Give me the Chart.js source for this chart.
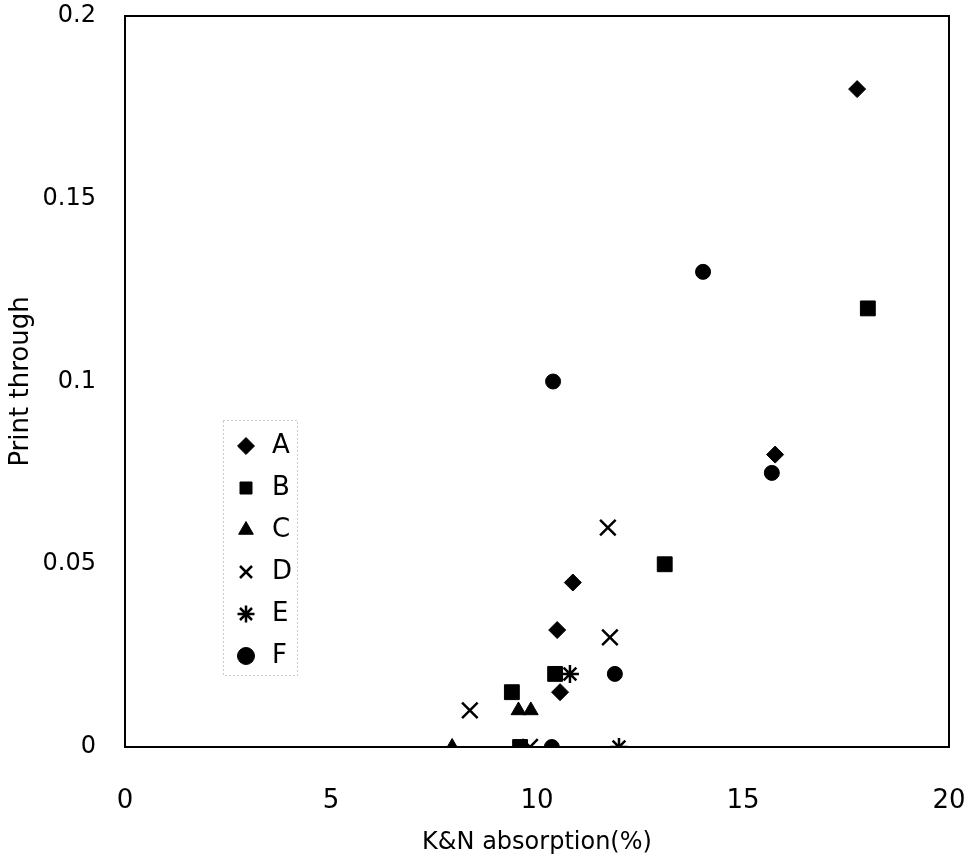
<!DOCTYPE html>
<html>
<head>
<meta charset="utf-8">
<script src="https://cdn.jsdelivr.net/npm/chart.js@4/dist/chart.umd.min.js"></script>
<style>
    html, body { margin: 0; padding: 0; background: #fff; }
    #wrap { width: 976px; height: 860px; position: relative; }
</style>
</head>
<body>
<div id="wrap"><canvas id="chart"></canvas></div>
<script>
// series values (x = K&N absorption %, y = print through)
var seriesNames = ['A', 'B', 'C', 'D', 'E', 'F'];
var aX = [17.77, 15.78, 10.87, 10.49, 10.56];
var aY = [0.18, 0.08, 0.045, 0.032, 0.015];
var bX = [18.03, 13.1, 10.44, 9.39, 9.59];
var bY = [0.12, 0.05, 0.02, 0.015, 0];
var cX = [7.94, 9.55, 9.85];
var cY = [0, 0.01, 0.01];
var dX = [11.72, 11.77, 8.37, 9.83];
var dY = [0.06, 0.03, 0.01, 0];
var eX = [10.8, 11.99];
var eY = [0.02, 0];
var fX = [14.03, 10.39, 15.7, 11.89, 10.36];
var fY = [0.13, 0.1, 0.075, 0.02, 0];

var xTickValues = [0, 5, 10, 15, 20];
var yTickValues = [0, 0.05, 0.1, 0.15, 0.2];
var yTickLabels = ['0', '0.05', '0.1', '0.15', '0.2'];

var FONT = 'DejaVu Sans';

function toPoints(xs, ys) {
    var pts = [];
    for (var i = 0; i < xs.length; i++) pts.push({ x: xs[i], y: ys[i] });
    return pts;
}

function makeSet(name, xs, ys, style, radius, bw) {
    return {
        label: name,
        data: toPoints(xs, ys),
        pointStyle: style,
        pointRadius: radius,
        pointHoverRadius: radius,
        backgroundColor: '#000',
        borderColor: '#000',
        borderWidth: bw,
        showLine: false,
    };
}

// no extra room for overhanging tick labels: the plot box is fixed
function noOverhang(s) {
    s.paddingTop = 0;
    s.paddingBottom = 0;
    s.paddingLeft = 0;
    s.paddingRight = 0;
}

// frame round the plot area + dotted box round the legend
var framePlugin = {
    id: 'frame',
    afterLayout: function (chart) {
        var lg = chart.legend;
        if (!lg) return;
        lg.left = 217;
        lg.top = 417;
        lg.right = lg.left + lg.width;
        lg.bottom = lg.top + lg.height;
    },
    afterDraw: function (chart) {
        var a = chart.chartArea;
        var ctx = chart.ctx;
        ctx.save();
        ctx.strokeStyle = '#000';
        ctx.lineWidth = 2;
        ctx.strokeRect(a.left, a.top, a.right - a.left, a.bottom - a.top);
        ctx.strokeStyle = '#999';
        ctx.lineWidth = 1;
        ctx.setLineDash([1, 3]);
        ctx.strokeRect(223.5, 420.5, 74, 255);
        ctx.restore();
    }
};

var ctx = document.getElementById('chart').getContext('2d');
new Chart(ctx, {
    type: 'scatter',
    data: {
        datasets: [
            makeSet(seriesNames[0], aX, aY, 'rectRot', 8.5, 1),
            makeSet(seriesNames[1], bX, bY, 'rect', 10.5, 1),
            makeSet(seriesNames[2], cX, cY, 'triangle', 8.5, 1),
            makeSet(seriesNames[3], dX, dY, 'crossRot', 11, 2.5),
            makeSet(seriesNames[4], eX, eY, 'star', 9, 2.5),
            makeSet(seriesNames[5], fX, fY, 'circle', 7.5, 1),
        ],
    },
    options: {
        responsive: true,
        maintainAspectRatio: false,
        animation: false,
        layout: { padding: { top: 16, right: 27, left: 0, bottom: 0 } },
        plugins: {
            tooltip: { enabled: false },
            legend: {
                position: 'chartArea',
                align: 'start',
                labels: {
                    usePointStyle: true,
                    boxHeight: 12,
                    padding: 16,
                    color: '#000',
                    font: { family: FONT, size: 26 },
                },
            },
        },
        scales: {
            x: {
                type: 'linear',
                min: 0,
                max: 20,
                afterFit: function (s) { s.height = 113; noOverhang(s); },
                afterBuildTicks: function (s) {
                    s.ticks = xTickValues.map(function (v) { return { value: v }; });
                },
                grid: { display: false, drawTicks: false },
                border: { display: true, color: '#000', width: 2 },
                ticks: {
                    padding: 39,
                    color: '#000',
                    font: { family: FONT, size: 26 },
                    maxRotation: 0,
                    callback: function (v) { return String(v); },
                },
                title: {
                    display: true,
                    text: 'K&N absorption(%)',
                    color: '#000',
                    font: { family: FONT, size: 24 },
                    padding: { top: 0, bottom: 3 },
                },
            },
            y: {
                type: 'linear',
                min: 0,
                max: 0.2,
                afterFit: function (s) { s.width = 125; noOverhang(s); },
                afterBuildTicks: function (s) {
                    s.ticks = yTickValues.map(function (v) { return { value: v }; });
                },
                grid: { display: false, drawTicks: false },
                border: { display: true, color: '#000', width: 2 },
                ticks: {
                    padding: 29,
                    color: '#000',
                    font: { family: FONT, size: 24 },
                    callback: function (v, i) { return yTickLabels[i]; },
                },
                title: {
                    display: true,
                    text: 'Print through',
                    color: '#000',
                    font: { family: FONT, size: 26 },
                    padding: { top: 6, bottom: 0 },
                },
            },
        },
    },
    plugins: [framePlugin],
});
</script>
</body>
</html>
